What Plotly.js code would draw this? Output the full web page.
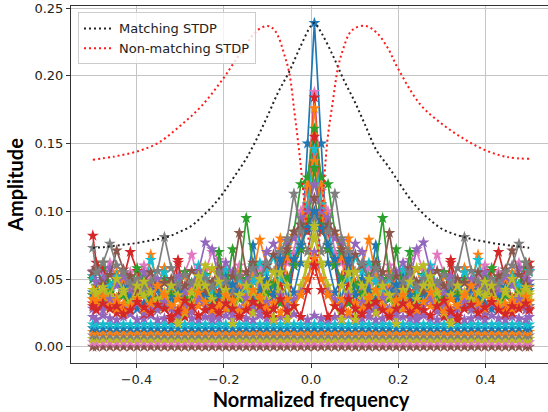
<!DOCTYPE html>
<html>
<head>
<meta charset="utf-8">
<script src="https://cdn.plot.ly/plotly-3.0.1.min.js"></script>
<style>
html,body{margin:0;padding:0;overflow:hidden;background:#fff;}
#chart{width:552px;height:412px;}
</style>
</head>
<body>
<div id="chart"></div>
<script>
// ---- frequency grid shared by all spectra ----
const freq = [-0.5,-0.4922,-0.4766,-0.4609,-0.4453,-0.4297,-0.4141,-0.3984,-0.3828,-0.3672,-0.3516,-0.3359,-0.3203,-0.3047,-0.2891,-0.2734,-0.2578,-0.2422,-0.2266,-0.2109,-0.1953,-0.1797,-0.1641,-0.1484,-0.1328,-0.1172,-0.1016,-0.0859,-0.0703,-0.0547,-0.0391,-0.0234,-0.0078,0.0078,0.0234,0.0391,0.0547,0.0703,0.0859,0.1016,0.1172,0.1328,0.1484,0.1641,0.1797,0.1953,0.2109,0.2266,0.2422,0.2578,0.2734,0.2891,0.3047,0.3203,0.3359,0.3516,0.3672,0.3828,0.3984,0.4141,0.4297,0.4453,0.4609,0.4766,0.4922,0.5];

// ---- flat low-amplitude spectra (bands at the bottom) ----
const bandBrown = [0,0,0,0,0,0,0,0,0,0,0, 0,0,0,0,0,0,0,0,0,0,0, 0,0,0,0,0,0,0,0,0,0,0, 0,0,0,0,0,0,0,0,0,0,0, 0,0,0,0,0,0,0,0,0,0,0, 0,0,0,0,0,0,0,0,0,0,0];
const bandPink = [0.0033,0.0033,0.0033,0.0033,0.0033,0.0033,0.0033,0.0033,0.0033,0.0033,0.0033, 0.0033,0.0033,0.0033,0.0033,0.0033,0.0033,0.0033,0.0033,0.0033,0.0033,0.0033, 0.0033,0.0033,0.0033,0.0033,0.0033,0.0033,0.0033,0.0033,0.0033,0.0033,0.0033, 0.0033,0.0033,0.0033,0.0033,0.0033,0.0033,0.0033,0.0033,0.0033,0.0033,0.0033, 0.0033,0.0033,0.0033,0.0033,0.0033,0.0033,0.0033,0.0033,0.0033,0.0033,0.0033, 0.0033,0.0033,0.0033,0.0033,0.0033,0.0033,0.0033,0.0033,0.0033,0.0033,0.0033];
const bandOlive = [0.0057,0.0057,0.0057,0.0057,0.0057,0.0057,0.0057,0.0057,0.0057,0.0057,0.0057, 0.0057,0.0057,0.0057,0.0057,0.0057,0.0057,0.0057,0.0057,0.0057,0.0057,0.0057, 0.0057,0.0057,0.0057,0.0057,0.0057,0.0057,0.0057,0.0057,0.0057,0.0057,0.0057, 0.0057,0.0057,0.0057,0.0057,0.0057,0.0057,0.0057,0.0057,0.0057,0.0057,0.0057, 0.0057,0.0057,0.0057,0.0057,0.0057,0.0057,0.0057,0.0057,0.0057,0.0057,0.0057, 0.0057,0.0057,0.0057,0.0057,0.0057,0.0057,0.0057,0.0057,0.0057,0.0057,0.0057];
const bandGray = [0.0084,0.0084,0.0084,0.0084,0.0084,0.0084,0.0084,0.0084,0.0084,0.0084,0.0084, 0.0084,0.0084,0.0084,0.0084,0.0084,0.0084,0.0084,0.0084,0.0084,0.0084,0.0084, 0.0084,0.0084,0.0084,0.0084,0.0084,0.0084,0.0084,0.0084,0.0084,0.0084,0.0084, 0.0084,0.0084,0.0084,0.0084,0.0084,0.0084,0.0084,0.0084,0.0084,0.0084,0.0084, 0.0084,0.0084,0.0084,0.0084,0.0084,0.0084,0.0084,0.0084,0.0084,0.0084,0.0084, 0.0084,0.0084,0.0084,0.0084,0.0084,0.0084,0.0084,0.0084,0.0084,0.0084,0.0084];
const bandOrange = [0.0110,0.0110,0.0110,0.0110,0.0110,0.0110,0.0110,0.0110,0.0110,0.0110,0.0110, 0.0110,0.0110,0.0110,0.0110,0.0110,0.0110,0.0110,0.0110,0.0110,0.0110,0.0110, 0.0110,0.0110,0.0110,0.0110,0.0110,0.0110,0.0110,0.0110,0.0110,0.0110,0.0110, 0.0110,0.0110,0.0110,0.0110,0.0110,0.0110,0.0110,0.0110,0.0110,0.0110,0.0110, 0.0110,0.0110,0.0110,0.0110,0.0110,0.0110,0.0110,0.0110,0.0110,0.0110,0.0110, 0.0110,0.0110,0.0110,0.0110,0.0110,0.0110,0.0110,0.0110,0.0110,0.0110,0.0110];
const bandBlue = [0.0137,0.0137,0.0137,0.0137,0.0137,0.0137,0.0137,0.0137,0.0137,0.0137,0.0137, 0.0137,0.0137,0.0137,0.0137,0.0137,0.0137,0.0137,0.0137,0.0137,0.0137,0.0137, 0.0137,0.0137,0.0137,0.0137,0.0137,0.0137,0.0137,0.0137,0.0137,0.0137,0.0137, 0.0137,0.0137,0.0137,0.0137,0.0137,0.0137,0.0137,0.0137,0.0137,0.0137,0.0137, 0.0137,0.0137,0.0137,0.0137,0.0137,0.0137,0.0137,0.0137,0.0137,0.0137,0.0137, 0.0137,0.0137,0.0137,0.0137,0.0137,0.0137,0.0137,0.0137,0.0137,0.0137,0.0137];
const bandCyan = [0.0165,0.0165,0.0165,0.0165,0.0165,0.0165,0.0165,0.0165,0.0165,0.0165,0.0165, 0.0165,0.0165,0.0165,0.0165,0.0165,0.0165,0.0165,0.0165,0.0165,0.0165,0.0165, 0.0165,0.0165,0.0165,0.0165,0.0165,0.0165,0.0165,0.0165,0.0165,0.0165,0.0165, 0.0165,0.0165,0.0165,0.0165,0.0165,0.0165,0.0165,0.0165,0.0165,0.0165,0.0165, 0.0165,0.0165,0.0165,0.0165,0.0165,0.0165,0.0165,0.0165,0.0165,0.0165,0.0165, 0.0165,0.0165,0.0165,0.0165,0.0165,0.0165,0.0165,0.0165,0.0165,0.0165,0.0165];
const bandPurple = [0.022,0.020,0.023,0.021,0.020,0.022,0.024,0.020,0.021,0.023,0.020, 0.021,0.022,0.020,0.023,0.021,0.020,0.022,0.020,0.021,0.023,0.020, 0.022,0.021,0.020,0.023,0.021,0.020,0.022,0.021,0.024,0.022,0.020, 0.023,0.021,0.020,0.022,0.021,0.023,0.020,0.021,0.022,0.020,0.021, 0.023,0.020,0.022,0.021,0.020,0.023,0.021,0.020,0.022,0.021,0.023, 0.020,0.021,0.022,0.020,0.023,0.021,0.020,0.022,0.021,0.020,0.022];

// ---- noisy / peaked spectra ----
const specBlue = [0.050,0.045,0.055,0.043,0.049,0.038,0.046,0.040,0.052,0.044,0.036,0.050,0.041,0.047,0.038,0.042,0.055,0.046,0.034,0.040,0.052,0.044,0.036,0.048,0.075,0.042,0.050,0.038,0.045,0.052,0.040,0.062,0.150,0.239,0.150,0.062,0.040,0.052,0.045,0.038,0.050,0.042,0.075,0.048,0.036,0.044,0.052,0.040,0.034,0.046,0.055,0.042,0.038,0.047,0.041,0.050,0.036,0.044,0.052,0.040,0.046,0.038,0.049,0.043,0.055,0.045];
const specPink = [0.056,0.057,0.052,0.062,0.050,0.044,0.055,0.048,0.060,0.052,0.046,0.058,0.042,0.050,0.055,0.068,0.048,0.056,0.070,0.064,0.046,0.052,0.060,0.045,0.050,0.058,0.042,0.055,0.048,0.062,0.070,0.100,0.115,0.188,0.115,0.100,0.070,0.062,0.048,0.055,0.042,0.058,0.050,0.045,0.060,0.052,0.046,0.064,0.070,0.056,0.048,0.068,0.055,0.050,0.042,0.058,0.046,0.052,0.060,0.048,0.055,0.044,0.050,0.062,0.052,0.057];
const specRed = [0.082,0.062,0.058,0.044,0.036,0.050,0.070,0.056,0.038,0.044,0.030,0.035,0.048,0.062,0.038,0.030,0.042,0.034,0.046,0.040,0.028,0.036,0.052,0.044,0.030,0.038,0.048,0.032,0.040,0.068,0.060,0.085,0.105,0.184,0.105,0.085,0.060,0.068,0.040,0.032,0.048,0.038,0.030,0.044,0.052,0.036,0.028,0.040,0.046,0.034,0.042,0.030,0.038,0.062,0.048,0.035,0.030,0.044,0.038,0.056,0.070,0.050,0.036,0.044,0.058,0.062];
const specOrange = [0.052,0.044,0.050,0.042,0.055,0.047,0.039,0.050,0.044,0.068,0.046,0.058,0.040,0.045,0.052,0.036,0.048,0.042,0.057,0.050,0.038,0.046,0.055,0.040,0.052,0.079,0.060,0.055,0.072,0.066,0.082,0.090,0.120,0.176,0.120,0.090,0.082,0.066,0.072,0.055,0.060,0.079,0.052,0.040,0.055,0.046,0.038,0.050,0.057,0.042,0.048,0.036,0.052,0.045,0.040,0.058,0.046,0.068,0.044,0.050,0.039,0.047,0.055,0.042,0.050,0.044];
const specGreen = [0.050,0.056,0.062,0.046,0.052,0.040,0.043,0.058,0.048,0.036,0.044,0.050,0.038,0.042,0.055,0.047,0.040,0.053,0.045,0.036,0.048,0.042,0.050,0.095,0.060,0.052,0.038,0.047,0.060,0.070,0.085,0.120,0.125,0.161,0.125,0.120,0.085,0.070,0.060,0.047,0.038,0.052,0.060,0.095,0.050,0.042,0.048,0.036,0.045,0.053,0.040,0.047,0.055,0.042,0.038,0.050,0.044,0.036,0.048,0.058,0.043,0.040,0.052,0.046,0.062,0.056];
const specRed2 = [0.032,0.028,0.030,0.033,0.025,0.028,0.040,0.032,0.024,0.028,0.035,0.030,0.020,0.064,0.022,0.028,0.038,0.030,0.025,0.035,0.028,0.032,0.024,0.030,0.026,0.035,0.028,0.022,0.045,0.030,0.060,0.072,0.095,0.155,0.095,0.072,0.060,0.030,0.045,0.022,0.028,0.035,0.026,0.030,0.024,0.032,0.028,0.035,0.025,0.030,0.038,0.028,0.022,0.064,0.020,0.030,0.035,0.028,0.024,0.032,0.040,0.028,0.025,0.033,0.030,0.028];
const specCyan = [0.052,0.056,0.050,0.045,0.052,0.040,0.048,0.036,0.042,0.064,0.048,0.055,0.044,0.050,0.038,0.045,0.060,0.052,0.040,0.046,0.057,0.044,0.050,0.038,0.048,0.062,0.055,0.066,0.050,0.075,0.060,0.090,0.105,0.146,0.105,0.090,0.060,0.075,0.050,0.066,0.055,0.062,0.048,0.038,0.050,0.044,0.057,0.046,0.040,0.052,0.060,0.045,0.038,0.050,0.044,0.055,0.048,0.064,0.042,0.036,0.048,0.040,0.052,0.045,0.050,0.056];
const specOrange2 = [0.038,0.034,0.040,0.036,0.028,0.032,0.044,0.038,0.030,0.035,0.048,0.040,0.033,0.028,0.036,0.042,0.030,0.034,0.045,0.038,0.028,0.032,0.044,0.036,0.030,0.040,0.035,0.045,0.080,0.050,0.062,0.075,0.098,0.137,0.098,0.075,0.062,0.050,0.080,0.045,0.035,0.040,0.030,0.036,0.044,0.032,0.028,0.038,0.045,0.034,0.030,0.042,0.036,0.028,0.033,0.040,0.048,0.035,0.030,0.038,0.044,0.032,0.028,0.036,0.040,0.034];
const specGreen2 = [0.038,0.030,0.036,0.040,0.034,0.038,0.028,0.032,0.042,0.035,0.030,0.038,0.038,0.042,0.036,0.036,0.045,0.038,0.028,0.070,0.040,0.072,0.035,0.050,0.042,0.030,0.038,0.045,0.032,0.050,0.060,0.072,0.090,0.132,0.090,0.072,0.060,0.050,0.032,0.045,0.038,0.030,0.042,0.050,0.035,0.072,0.040,0.070,0.028,0.038,0.045,0.036,0.036,0.042,0.038,0.038,0.030,0.035,0.042,0.032,0.028,0.038,0.034,0.040,0.036,0.030];
const specPurple = [0.055,0.048,0.050,0.058,0.045,0.052,0.040,0.047,0.055,0.042,0.050,0.038,0.045,0.052,0.040,0.046,0.056,0.077,0.072,0.050,0.062,0.055,0.040,0.048,0.058,0.045,0.070,0.076,0.060,0.078,0.080,0.095,0.100,0.120,0.100,0.095,0.080,0.078,0.060,0.076,0.070,0.045,0.058,0.048,0.040,0.055,0.062,0.050,0.072,0.077,0.056,0.046,0.040,0.052,0.045,0.038,0.050,0.042,0.055,0.047,0.040,0.052,0.045,0.058,0.050,0.048];
const specBrown = [0.055,0.058,0.046,0.053,0.071,0.057,0.052,0.040,0.048,0.055,0.042,0.047,0.050,0.038,0.045,0.056,0.052,0.040,0.048,0.058,0.044,0.052,0.084,0.055,0.062,0.050,0.060,0.068,0.055,0.072,0.085,0.090,0.085,0.110,0.085,0.090,0.085,0.072,0.055,0.068,0.060,0.050,0.062,0.055,0.084,0.052,0.044,0.058,0.048,0.040,0.052,0.056,0.045,0.038,0.050,0.047,0.042,0.055,0.048,0.040,0.052,0.057,0.071,0.053,0.046,0.058];
const specGray = [0.073,0.055,0.062,0.076,0.060,0.055,0.046,0.050,0.042,0.048,0.056,0.081,0.058,0.045,0.053,0.047,0.042,0.050,0.044,0.055,0.048,0.040,0.052,0.045,0.058,0.050,0.062,0.055,0.070,0.080,0.113,0.085,0.070,0.095,0.070,0.085,0.113,0.080,0.070,0.055,0.062,0.050,0.058,0.045,0.052,0.040,0.048,0.055,0.044,0.050,0.042,0.047,0.053,0.045,0.058,0.081,0.056,0.048,0.042,0.050,0.046,0.055,0.060,0.076,0.062,0.055];
const specBlue2 = [0.040,0.042,0.038,0.030,0.034,0.044,0.036,0.028,0.032,0.038,0.042,0.030,0.035,0.040,0.028,0.032,0.043,0.036,0.030,0.038,0.033,0.046,0.040,0.028,0.035,0.042,0.050,0.038,0.065,0.034,0.065,0.075,0.088,0.100,0.088,0.075,0.065,0.034,0.065,0.038,0.050,0.042,0.035,0.028,0.040,0.046,0.033,0.038,0.030,0.036,0.043,0.032,0.028,0.040,0.035,0.030,0.042,0.038,0.032,0.028,0.036,0.044,0.034,0.030,0.038,0.042];
const specOlive = [0.035,0.038,0.042,0.030,0.036,0.040,0.032,0.045,0.038,0.028,0.035,0.040,0.030,0.017,0.025,0.032,0.045,0.060,0.058,0.048,0.035,0.017,0.038,0.030,0.040,0.050,0.035,0.020,0.055,0.045,0.030,0.040,0.060,0.089,0.060,0.040,0.030,0.045,0.055,0.020,0.035,0.050,0.040,0.030,0.038,0.017,0.035,0.048,0.058,0.060,0.045,0.032,0.025,0.017,0.030,0.040,0.035,0.028,0.038,0.045,0.032,0.040,0.036,0.030,0.042,0.038];
const specOlive2 = [0.042,0.040,0.044,0.038,0.050,0.042,0.030,0.036,0.048,0.040,0.028,0.035,0.045,0.038,0.030,0.040,0.052,0.045,0.035,0.028,0.042,0.030,0.038,0.045,0.025,0.035,0.045,0.055,0.040,0.020,0.030,0.045,0.062,0.080,0.062,0.045,0.030,0.020,0.040,0.055,0.045,0.035,0.025,0.045,0.038,0.030,0.042,0.028,0.035,0.045,0.052,0.040,0.030,0.038,0.045,0.035,0.028,0.040,0.048,0.036,0.030,0.042,0.050,0.038,0.044,0.040];
const specPurple2 = [0.028,0.030,0.027,0.035,0.030,0.024,0.028,0.032,0.025,0.030,0.027,0.033,0.028,0.024,0.030,0.026,0.035,0.030,0.022,0.027,0.032,0.024,0.028,0.036,0.030,0.025,0.033,0.028,0.038,0.030,0.035,0.040,0.050,0.070,0.050,0.040,0.035,0.030,0.038,0.028,0.033,0.025,0.030,0.036,0.028,0.024,0.032,0.027,0.022,0.030,0.035,0.026,0.030,0.024,0.028,0.033,0.027,0.030,0.025,0.032,0.028,0.024,0.030,0.035,0.027,0.030];
const specOrange3 = [0.035,0.033,0.037,0.030,0.034,0.026,0.030,0.035,0.028,0.032,0.045,0.038,0.030,0.035,0.026,0.030,0.040,0.033,0.027,0.030,0.038,0.034,0.026,0.030,0.042,0.036,0.028,0.032,0.025,0.035,0.030,0.038,0.050,0.065,0.050,0.038,0.030,0.035,0.025,0.032,0.028,0.036,0.042,0.030,0.026,0.034,0.038,0.030,0.027,0.033,0.040,0.030,0.026,0.035,0.030,0.038,0.045,0.032,0.028,0.035,0.030,0.026,0.034,0.030,0.037,0.033];
const specRed3 = [0.030,0.027,0.032,0.028,0.030,0.024,0.027,0.033,0.029,0.025,0.031,0.028,0.022,0.026,0.034,0.030,0.023,0.027,0.030,0.025,0.032,0.028,0.022,0.027,0.033,0.030,0.024,0.028,0.035,0.026,0.030,0.022,0.042,0.060,0.042,0.022,0.030,0.026,0.035,0.028,0.024,0.030,0.033,0.027,0.022,0.028,0.032,0.025,0.030,0.027,0.023,0.030,0.034,0.026,0.022,0.028,0.031,0.025,0.029,0.033,0.027,0.024,0.030,0.028,0.032,0.027];

// ---- STDP reference curves ----
const matchFreq = [-0.5,-0.475,-0.45,-0.425,-0.4,-0.375,-0.35,-0.325,-0.3,-0.275,-0.25,-0.225,-0.2,-0.175,-0.15,-0.125,-0.1,-0.075,-0.05,-0.025,0,0.0078,0.025,0.05,0.075,0.1,0.125,0.15,0.175,0.2,0.225,0.25,0.275,0.3,0.325,0.35,0.375,0.4,0.425,0.45,0.475,0.5];
const matchAmp = [0.073,0.0735,0.0745,0.0755,0.0765,0.078,0.0795,0.0815,0.085,0.089,0.096,0.104,0.114,0.126,0.138,0.153,0.170,0.188,0.203,0.221,0.237,0.239,0.231,0.215,0.197,0.181,0.163,0.145,0.134,0.122,0.110,0.1005,0.093,0.087,0.0835,0.081,0.079,0.0775,0.076,0.075,0.074,0.073];
const nonFreq = [-0.5,-0.45,-0.4,-0.35,-0.3,-0.25,-0.2,-0.175,-0.15,-0.125,-0.1,-0.0875,-0.075,-0.0625,-0.05,-0.0375,-0.025,-0.0125,0,0.0078,0.0156,0.025,0.0375,0.05,0.0625,0.075,0.0875,0.1,0.125,0.15,0.175,0.2,0.25,0.3,0.35,0.4,0.45,0.5];
const nonAmp = [0.138,0.1405,0.144,0.1505,0.163,0.178,0.1985,0.2105,0.2225,0.233,0.2368,0.235,0.229,0.217,0.2025,0.172,0.138,0.098,0.065,0.050,0.068,0.100,0.152,0.181,0.207,0.221,0.231,0.235,0.2368,0.232,0.221,0.205,0.179,0.1645,0.1535,0.145,0.140,0.1387];

// ---- tick labels ----
const xTickVals = [-0.4,-0.2,0,0.2,0.4];
const xTickText = ['\u22120.4','\u22120.2','0.0','0.2','0.4'];
const yTickVals = [0,0.05,0.1,0.15,0.2,0.25];
const yTickText = ['0.00','0.05','0.10','0.15','0.20','0.25'];

const C = {blue:'#1f77b4',orange:'#ff7f0e',green:'#2ca02c',red:'#d62728',purple:'#9467bd',brown:'#8c564b',pink:'#e377c2',gray:'#7f7f7f',olive:'#bcbd22',cyan:'#17becf'};

function starTrace(y, color){
  return {x:freq, y:y, type:'scatter', mode:'lines+markers',
    line:{color:color, width:1.7},
    marker:{symbol:'star', size:9, color:color, line:{width:0}},
    showlegend:false, hoverinfo:'skip'};
}

const series = [
  [bandBrown,C.brown],[bandPink,C.pink],[bandOlive,C.olive],[bandGray,C.gray],
  [bandOrange,C.orange],[bandBlue,C.blue],[bandCyan,C.cyan],[bandPurple,C.purple],
  [specBlue,C.blue],[specPink,C.pink],[specRed,C.red],[specOrange,C.orange],
  [specGreen,C.green],[specRed2,C.red],[specCyan,C.cyan],[specOrange2,C.orange],
  [specGreen2,C.green],[specPurple,C.purple],[specBrown,C.brown],[specGray,C.gray],
  [specBlue2,C.blue],[specOlive,C.olive],[specOlive2,C.olive],[specPurple2,C.purple],
  [specOrange3,C.orange],[specRed3,C.red]
];

const traces = series.map(s => starTrace(s[0], s[1]));
traces.push({x:matchFreq, y:matchAmp, type:'scatter', mode:'lines', name:'Matching STDP',
  line:{color:'#222', width:2, dash:'2px,3px', shape:'spline'}, hoverinfo:'skip'});
traces.push({x:nonFreq, y:nonAmp, type:'scatter', mode:'lines', name:'Non-matching STDP',
  line:{color:'#ff1a1a', width:2, dash:'2px,3px', shape:'spline'}, hoverinfo:'skip'});

const tickFont = {family:'DejaVu Sans', size:13, color:'#222'};
const layout = {
  width:552, height:412,
  margin:{l:71, r:1, t:6, b:49, pad:0},
  paper_bgcolor:'#fff', plot_bgcolor:'#fff',
  showlegend:true,
  xaxis:{range:[-0.55,0.55], tickvals:xTickVals, ticktext:xTickText, ticks:'outside', ticklen:4,
    tickcolor:'#333', tickfont:tickFont, showline:true, linecolor:'#333', linewidth:1, mirror:true,
    showgrid:true, gridcolor:'#c4c4c4', gridwidth:1, zeroline:false, automargin:false,
    title:{text:'Normalized frequency', font:{family:'Lato', size:20, color:'#000', weight:'bold'}, standoff:0}},
  yaxis:{range:[-0.012,0.2515], tickvals:yTickVals, ticktext:yTickText, ticks:'outside', ticklen:4,
    tickcolor:'#333', tickfont:tickFont, showline:true, linecolor:'#333', linewidth:1, mirror:true,
    showgrid:true, gridcolor:'#c4c4c4', gridwidth:1, zeroline:false, automargin:false,
    title:{text:'Amplitude', font:{family:'Lato', size:20, color:'#000', weight:'bold'}, standoff:5}},
  legend:{x:0.0146, y:0.982, xanchor:'left', yanchor:'top', bgcolor:'rgba(255,255,255,0.8)',
    bordercolor:'#cccccc', borderwidth:1, font:{family:'DejaVu Sans', size:13, color:'#222'},
    itemwidth:30, tracegroupgap:0}
};

Plotly.newPlot('chart', traces, layout, {staticPlot:true, displayModeBar:false});
</script>
</body>
</html>
